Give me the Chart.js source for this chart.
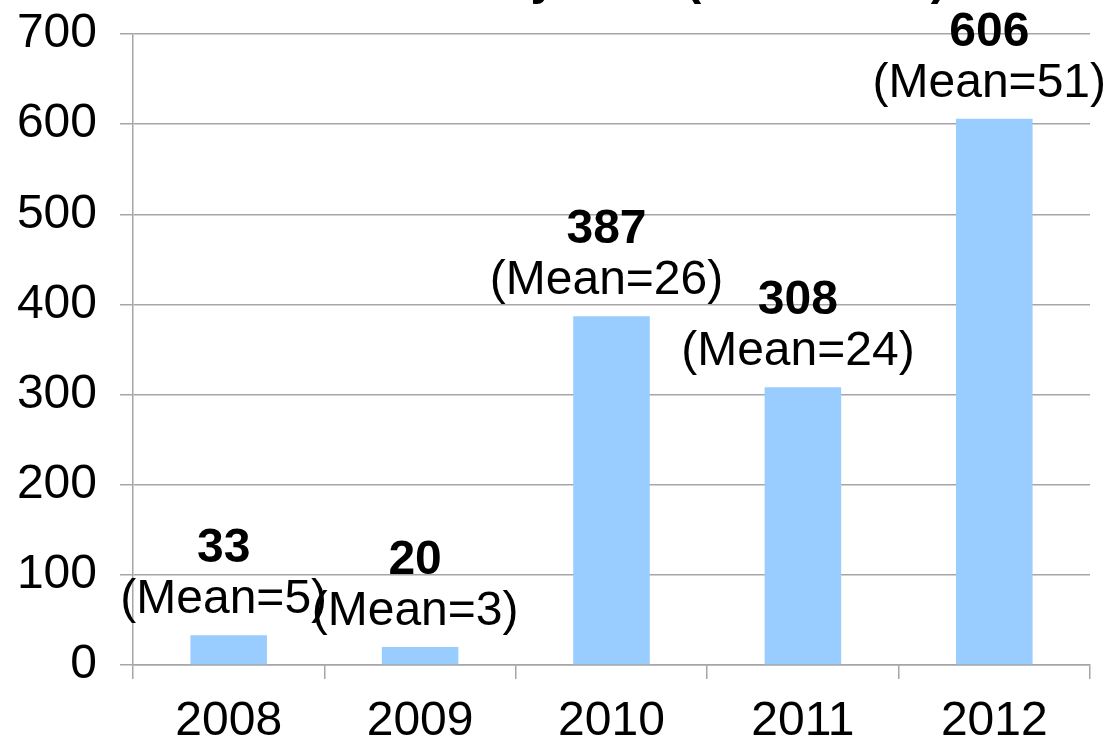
<!DOCTYPE html>
<html>
<head>
<meta charset="utf-8">
<script src="https://cdn.jsdelivr.net/npm/chart.js@4/dist/chart.umd.min.js"></script>
<style>
  html, body { margin: 0; padding: 0; background: #fff; }
  #wrap { width: 1107px; height: 741px; }
</style>
</head>
<body>
<div id="wrap"><canvas id="grafico" width="1107" height="741"></canvas></div>
<script>
const anos = ["2008", "2009", "2010", "2011", "2012"];
const totais = [33, 20, 387, 308, 606];
const medias = [5, 3, 26, 24, 51];
const ticksY = [0, 100, 200, 300, 400, 500, 600, 700];
const tituloInicio = "Number of Items by Year";
const tituloFim = " (2008-2012)";

const fonte = "'Liberation Sans', Arial, sans-serif";

// rótulos acima das barras: total em negrito + (Mean=..)
const rotulos = {
  id: "rotulos",
  afterDatasetsDraw(chart) {
    const c = chart.ctx;
    const meta = chart.getDatasetMeta(0);
    c.save();
    c.fillStyle = "#000";
    c.textAlign = "center";
    c.textBaseline = "alphabetic";
    meta.data.forEach(function (bar, i) {
      const base = bar.y - 22;
      c.font = "48px " + fonte;
      c.fillText("(Mean=" + medias[i] + ")", bar.x - 5, base);
      c.font = "bold 48px " + fonte;
      c.fillText(String(totais[i]), bar.x - 5, base - 51);
    });
    // título cortado no topo
    c.font = "bold 48px " + fonte;
    c.textAlign = "left";
    const w = c.measureText(tituloInicio).width;
    c.fillText(tituloInicio + tituloFim, 672 - w, -6);
    c.restore();
  },
};

const ctx = document.getElementById("grafico");

const chart = new Chart(ctx, {
  type: "bar",
  data: {
    labels: anos,
    datasets: [
      {
        label: "",
        data: totais,
        backgroundColor: "rgb(153, 204, 255)",
        borderWidth: 0,
        barPercentage: 0.4,
        categoryPercentage: 1,
      },
    ],
  },
  options: {
    responsive: false,
    animation: false,
    layout: {
      padding: { top: 0, right: 17, left: 0, bottom: 0 },
    },
    scales: {
      y: {
        min: 0,
        max: 700,
        afterBuildTicks: function (axis) {
          axis.ticks = ticksY.map(function (v) { return { value: v }; });
        },
        afterFit: function (axis) {
          axis.width = 133;
          axis.paddingTop = 34;
        },
        grid: {
          color: "#a6a6a6",
          lineWidth: 1.5,
          drawTicks: true,
          tickLength: 13,
        },
        border: { color: "#a6a6a6", width: 1.5 },
        ticks: {
          color: "#000",
          padding: 23,
          font: { family: fonte, size: 48 },
        },
      },
      x: {
        afterFit: function (axis) {
          axis.height = 76;
        },
        grid: {
          offset: true,
          drawOnChartArea: false,
          drawTicks: true,
          tickLength: 14,
          color: "#a6a6a6",
          lineWidth: 1.5,
        },
        border: { color: "#a6a6a6", width: 1.5 },
        ticks: {
          color: "#000",
          padding: 14,
          font: { family: fonte, size: 48 },
        },
      },
    },
    plugins: {
      legend: { display: false },
      tooltip: { enabled: false },
    },
  },
  plugins: [rotulos],
});
</script>
</body>
</html>
